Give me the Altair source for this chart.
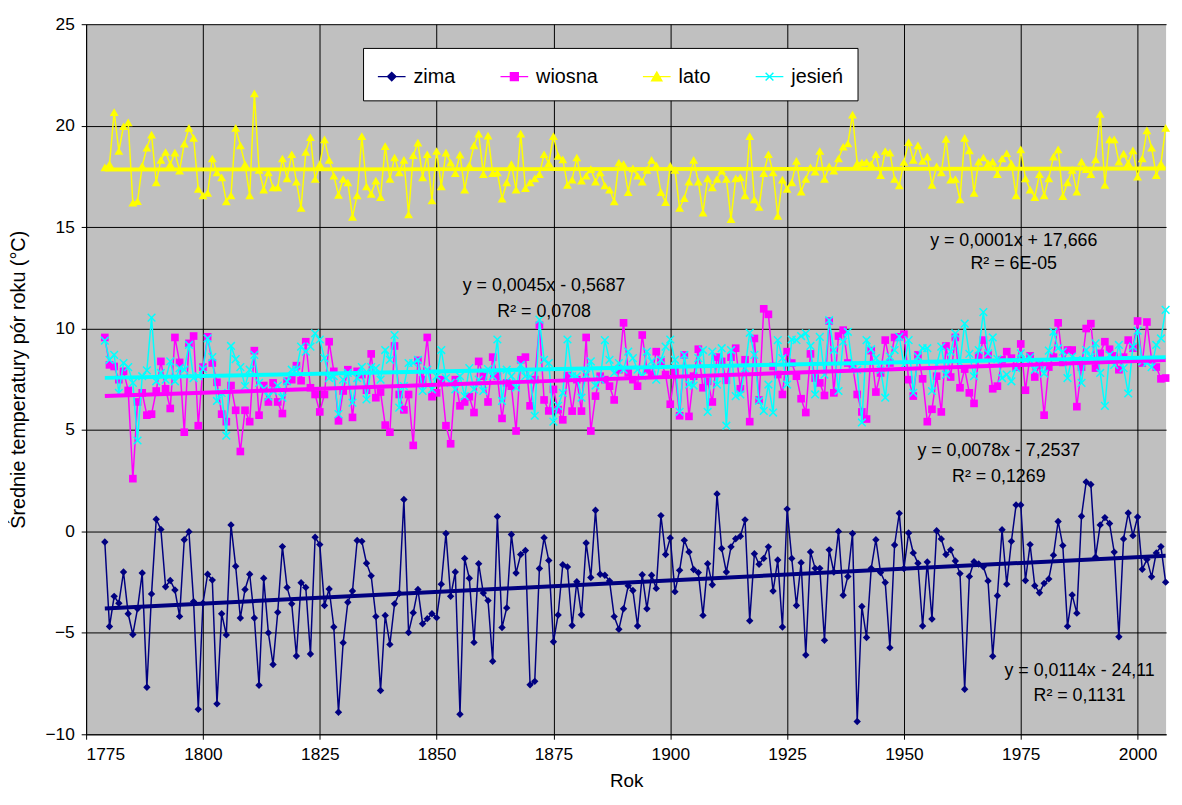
import altair as alt
import pandas as pd

years = list(range(1779, 2007))
seasons = ["zima", "wiosna", "lato", "jesień"]
colors = ["#000080", "#FF00FF", "#FFFF00", "#00FFFF"]

zima = [
    -0.52, -4.69, -3.2, -3.54, -2.0, -4.06, -5.08, -3.81, -2.05, -7.68,
    -3.08, 0.6, 0.1, -2.73, -2.42, -2.89, -4.19, -0.41, -0.02, -3.46,
    -8.77, -3.54, -2.11, -2.4, -8.5, -4.06, -5.1, 0.32, -1.72, -4.27,
    -2.86, -2.11, -4.27, -7.58, -2.31, -5.0, -6.56, -3.99, -0.75, -2.76,
    -3.57, -6.14, -2.53, -2.76, -6.04, -0.29, -0.65, -3.65, -2.84, -4.71,
    -8.91, -5.49, -3.49, -2.94, -0.45,
    -0.49, -1.57, -2.19, -4.2, -7.84, -4.14, -5.57, -3.57, -3.05, 1.57,
    -4.98, -4.01, -2.86, -4.55, -4.3, -4.06, -4.25, -2.6, -0.1, -3.2,
    -2.0, -9.01, -1.33, -2.31, -5.47, -1.59, -3.04, -3.41, -6.4, 0.73,
    -4.74, -3.77, -0.15, -2.05, -1.14, -0.94, -7.56, -7.39, -1.83, -0.31,
    -1.43, -5.44, -4.12, -1.64, -1.75, -4.64, -2.48, -4.11, -0.57, -2.27,
    1.04, -2.11, -2.16, -2.44, -4.2, -4.82, -3.81, -2.68, -2.91, -4.66,
    -2.14, -3.81, -2.16, -2.81, 0.78, -1.14, -0.32, -2.97, -1.92, -0.44,
    -1.01, -1.88, -2.03, -4.14, -1.59, -2.63, 1.85, -0.84, -2.0, -0.76,
    -0.36, -0.24, 0.57, -4.4, -1.1, -1.62, -1.33, -0.76, -2.94, -1.41,
    -4.71, 1.1, -1.33, -3.65, -1.54, -6.09, -1.01, -1.82, -1.82, -5.37,
    -0.91, -2.0, 0.0, -3.15, -2.22, -0.1, -9.37, -3.7, -5.23, -1.82,
    -0.41, -2.03, -2.52, -5.73, -0.67, 0.89, -1.83, -0.08, -1.06,
    -1.57, -4.66, -1.51, -4.32, 0.03, -0.37, -1.14, -0.91, -1.46, -2.08,
    -7.78, -2.22, -1.49, -1.61, -1.74, -2.44, -6.15, -3.17, 0.08, -2.6,
    -0.49, 1.3, 1.3, -2.42, -0.65, -2.68, -3.02, -2.56, -2.34, -1.17,
    0.49, -0.7, -4.68, -3.13, -4.03, 0.75, 2.44, 2.31, -1.27, 0.32,
    0.68, 0.39, -1.02, -5.19, -0.37, 0.91, -0.21, 0.71, -1.87, -1.38,
    -2.24, -1.06, -0.75, -2.5,
]

wiosna = [
    9.56, 8.21, 8.13, 7.48, 7.89, 6.95, 2.6, 6.38, 6.83, 5.73,
    5.78, 6.92, 8.38, 7.03, 6.06, 9.56, 8.33, 4.89, 9.27, 9.63,
    5.21, 8.1, 9.59, 8.3, 7.35, 5.78, 5.41, 7.19, 5.97, 3.94,
    5.97, 5.41, 8.91, 5.73, 7.19, 6.38, 7.32, 6.38, 5.81, 7.4,
    7.48, 8.17, 7.43, 9.35, 7.08, 6.75, 5.89, 6.75, 9.35, 7.89,
    5.45, 6.92, 7.97, 5.62, 7.89,
    7.73, 6.96, 8.75, 6.59, 6.87, 5.24, 4.89, 9.14, 6.75, 5.99,
    6.75, 4.24, 8.43, 7.48, 9.56, 6.64, 6.83, 7.48, 5.21, 4.32,
    7.48, 6.19, 6.38, 6.64, 5.86, 8.38, 7.65, 6.38, 8.59, 7.65,
    5.57, 7.32, 7.16, 4.95, 8.46, 8.59, 6.19, 7.48, 10.16, 6.48,
    5.94, 7.0, 6.0, 5.5, 7.68, 5.93, 7.48, 5.93, 9.56, 4.95,
    6.67, 7.65, 7.48, 7.16, 6.48, 7.97, 10.28, 7.81, 7.48, 7.16,
    9.68, 7.97, 7.73, 8.86, 8.38, 7.73, 6.27, 7.89, 5.7, 8.7,
    5.67, 7.65, 8.98, 7.08, 7.4, 6.38, 8.59, 8.38, 7.45, 8.59,
    9.03, 7.03, 8.46, 5.41, 9.51, 6.48, 10.97, 10.7, 8.13, 7.73,
    6.75, 8.86, 8.3, 7.65, 6.54, 5.86, 8.75, 7.56, 7.32, 6.7,
    10.37, 6.83, 9.63, 9.92, 8.3, 8.17, 6.75, 5.89, 5.54, 8.91,
    6.87, 7.81, 9.43, 8.3, 9.56, 9.59, 9.72, 7.48, 6.67,
    8.7, 7.52, 5.41, 6.02, 7.65, 5.89, 9.14, 7.61, 9.56, 7.08,
    8.0, 6.83, 6.31, 8.65, 9.43, 8.7, 7.03, 7.16, 8.46, 8.86,
    8.54, 8.1, 9.24, 6.96, 8.65, 7.61, 8.21, 5.73, 8.1, 8.59,
    10.28, 8.33, 8.94, 8.94, 6.15, 8.1, 10.0, 10.24, 8.05, 8.78,
    9.35, 8.98, 8.65, 7.97, 8.59, 9.43, 9.03, 10.37, 8.3, 10.32,
    8.46, 8.1, 7.52, 7.56,
]

lato = [
    17.94, 18.1, 20.67, 18.75, 19.97, 20.16, 16.2, 16.28, 18.02, 18.91,
    19.56, 17.2, 18.31, 18.7, 18.1, 18.67, 17.78, 19.11, 19.89, 19.4,
    16.88, 16.56, 16.69, 18.38, 17.69, 17.45, 16.27, 16.56, 19.89, 19.03,
    18.1, 16.56, 21.59, 17.82, 16.85, 17.69, 16.95, 16.95, 18.38, 17.4,
    18.59, 17.24, 15.94, 18.7, 19.43, 17.37, 18.1, 19.32, 18.31, 17.53,
    16.59, 17.37, 17.2, 15.5, 16.56,
    19.48, 17.01, 16.64, 17.29, 16.48, 18.99, 17.37, 18.43, 17.69, 18.31,
    15.62, 18.54, 19.16, 17.45, 18.59, 16.31, 18.75, 17.01, 18.67, 18.18,
    17.66, 18.57, 16.85, 18.05, 19.03, 19.61, 17.61, 19.51, 17.66, 17.69,
    16.4, 17.2, 18.1, 16.85, 19.61, 16.92, 17.2, 17.4, 17.61, 18.59,
    18.15, 19.48, 18.51, 18.34, 17.08, 17.34, 18.43, 17.29, 17.53, 17.86,
    17.24, 17.69, 17.05, 16.85, 16.27, 18.18, 18.1, 16.72, 17.89, 17.53,
    17.24, 17.82, 18.31, 18.05, 16.72, 16.23, 18.02, 17.82, 15.94, 16.43,
    17.24, 18.31, 17.24, 15.71, 17.4, 16.96, 17.37, 17.78, 17.37, 15.39,
    17.4, 17.45, 16.56, 19.48, 16.36, 15.99, 17.66, 18.59, 17.69, 15.55,
    17.34, 16.88, 17.2, 18.26, 16.75, 17.37, 17.94, 17.73, 18.75, 17.37,
    17.99, 17.78, 18.38, 18.96, 19.12, 20.54, 18.15, 18.18, 18.21, 18.1,
    18.59, 17.56, 18.75, 18.67, 17.37, 17.05, 18.21, 19.19, 18.31,
    19.03, 18.26, 18.47, 17.08, 17.99, 17.69, 19.35, 17.34, 17.37, 16.36,
    19.4, 18.78, 16.69, 18.23, 18.43, 18.15, 18.23, 17.61, 18.38, 18.64,
    18.13, 16.56, 18.83, 17.4, 16.85, 16.48, 17.61, 16.56, 17.4, 18.47,
    18.83, 16.53, 17.2, 17.82, 16.75, 18.23, 17.86, 17.61, 18.34, 20.58,
    17.08, 19.32, 19.32, 18.23, 18.62, 18.15, 18.78, 17.48, 18.38, 19.77,
    18.91, 17.56, 18.13, 19.89,
]

jesien = [
    9.4, 8.46, 8.7, 6.83, 8.3, 8.1, 7.32, 4.48, 7.65, 7.94,
    10.54, 7.4, 7.81, 7.48, 8.38, 7.4, 8.05, 7.97, 9.19, 7.56,
    7.65, 8.0, 9.51, 8.59, 6.43, 6.83, 4.72, 9.14, 8.49, 8.1,
    7.16, 7.97, 8.7, 7.32, 7.03, 6.64, 6.92, 7.19, 6.59, 7.4,
    7.97, 7.97, 9.11, 8.86, 9.11, 9.76, 9.46, 8.54, 7.56, 7.65,
    5.78, 7.48, 7.81, 6.35, 7.56,
    8.1, 6.51, 8.1, 8.05, 7.48, 8.94, 8.46, 9.68, 6.1, 7.16,
    8.3, 8.3, 8.46, 6.92, 7.97, 7.0, 7.65, 8.94, 7.56, 7.32,
    7.0, 7.65, 6.67, 8.05, 7.0, 7.48, 6.92, 8.0, 7.65, 9.46,
    6.43, 7.97, 7.65, 7.08, 8.21, 7.65, 7.65, 5.7, 10.44, 8.46,
    8.3, 5.41, 6.19, 6.83, 9.46, 7.65, 7.65, 6.59, 7.73, 8.38,
    7.19, 7.48, 9.43, 8.46, 7.81, 8.3, 7.97, 8.86, 8.54, 7.97,
    7.65, 8.86, 8.38, 7.48, 8.46, 9.11, 9.46, 8.46, 5.89, 8.7,
    7.24, 7.19, 8.54, 8.94, 5.89, 8.86, 7.24, 9.03, 5.21, 8.94,
    6.67, 6.75, 8.05, 9.79, 8.7, 6.43, 5.94, 7.24, 5.86, 9.43,
    8.54, 7.24, 9.46, 9.43, 9.63, 9.76, 9.14, 6.75, 9.59, 7.73,
    10.41, 8.94, 6.92, 9.35, 9.84, 8.13, 7.97, 5.37, 9.43, 8.98,
    8.54, 7.97, 6.59, 8.62, 8.94, 9.59, 8.21, 9.43, 6.83,
    8.62, 9.03, 9.03, 6.92, 8.21, 9.11, 7.73, 8.86, 9.76, 8.3,
    10.24, 8.75, 7.65, 8.94, 10.81, 8.78, 9.56, 8.49, 7.56, 7.73,
    7.4, 8.05, 8.78, 8.46, 8.59, 7.97, 8.3, 7.78, 8.91, 9.84,
    9.03, 8.86, 7.56, 8.62, 8.46, 7.32, 8.94, 8.59, 9.27, 7.81,
    6.19, 8.7, 8.21, 9.19, 8.05, 6.8, 9.11, 9.89, 8.38, 8.3,
    8.1, 9.19, 9.51, 10.92,
]

x_ticks = [1775, 1800, 1825, 1850, 1875, 1900, 1925, 1950, 1975, 2000]
y_ticks = [-10, -5, 0, 5, 10, 15, 20, 25]

ann_text = ["y = 0,0001x + 17,666", "R² = 6E-05",
            "y = 0,0045x - 0,5687", "R² = 0,0708",
            "y = 0,0078x - 7,2537", "R² = 0,1269",
            "y = 0,0114x - 24,11", "R² = 0,1131"]
ann_rok = [1973.5, 1973.5, 1873.0, 1873.0, 1970.3, 1970.3, 1987.6, 1987.6]
ann_temp = [14.33, 13.17, 12.09, 10.83, 3.96, 2.7, -6.9, -8.12]

series = {"zima": zima, "wiosna": wiosna, "lato": lato, "jesień": jesien}
rows = []
for name, vals in series.items():
    for yr, v in zip(years, vals):
        rows.append({"rok": yr, "temp": v, "pora": name})
df = pd.DataFrame(rows)
ann = pd.DataFrame({"rok": ann_rok, "temp": ann_temp, "text": ann_text})

FONT = "Liberation Sans"

legend_paths = [
    "M-1,0H1M0,-0.3L0.3,0L0,0.3L-0.3,0Z",
    "M-1,0H1M-0.28,-0.28H0.28V0.28H-0.28Z",
    "M-1,0H1M0,-0.32L0.36,0.3H-0.36Z",
    "M-1,0H1M-0.28,-0.28L0.28,0.28M-0.28,0.28L0.28,-0.28",
]

xenc = alt.X("rok:Q",
             scale=alt.Scale(domain=[1775, 2006.1], nice=False, zero=False),
             axis=alt.Axis(values=x_ticks, format="d", title="Rok", grid=True,
                           labelFontSize=17.5, titleFontSize=19, titleFontWeight="normal",
                           labelPadding=7, titlePadding=8, tickSize=5))
yenc = alt.Y("temp:Q",
             scale=alt.Scale(domain=[-10, 25], nice=False, zero=False),
             axis=alt.Axis(values=y_ticks, title="Średnie temperatury pór roku (°C)", grid=True,
                           labelFontSize=17.5, titleFontSize=20, titleFontWeight="normal",
                           labelPadding=7, titlePadding=16.5, tickSize=5))

leg = alt.Legend(
    title=None, orient="none", legendX=280, legendY=24,
    direction="horizontal", columns=4, columnPadding=42,
    fillColor="white", strokeColor="black", padding=14,
    labelFontSize=20, labelFont=FONT, labelOffset=7, labelColor="black",
    symbolSize=784, symbolStrokeWidth=1.5, symbolOpacity=1)

base = alt.Chart(df)
point_shapes = {
    "zima": ("diamond", True, 56),
    "wiosna": ("square", True, 60),
    "lato": ("triangle-up", True, 80),
    "jesień": ("M-1,-1L1,1M-1,1L1,-1", False, 60),
}

layers = []
for s, col in zip(seasons, colors):
    sub = base.transform_filter(alt.datum.pora == s)
    layers.append(sub.mark_line(strokeWidth=1.5, color=col).encode(x=xenc, y=yenc))
    shp, filled, size = point_shapes[s]
    layers.append(sub.mark_point(shape=shp, filled=filled, size=size, opacity=1,
                                 color=col, strokeWidth=1.5).encode(x=xenc, y=yenc))
for s, col in zip(seasons, colors):
    layers.append(base.transform_filter(alt.datum.pora == s)
                  .transform_regression("rok", "temp")
                  .mark_line(strokeWidth=4, color=col)
                  .encode(x="rok:Q", y="temp:Q"))

text_layer = alt.Chart(ann).mark_text(font=FONT, fontSize=18, color="black").encode(
    x="rok:Q", y="temp:Q", text="text:N")
layers.append(text_layer)

# legend-only layer (draws no marks; carries the legend)
legend_layer = base.transform_filter("false").mark_point(filled=True, strokeWidth=1.5).encode(
    x="rok:Q", y="temp:Q",
    color=alt.Color("pora:N", scale=alt.Scale(domain=seasons, range=colors), legend=leg),
    stroke=alt.Stroke("pora:N", scale=alt.Scale(domain=seasons, range=colors), legend=leg),
    shape=alt.Shape("pora:N", scale=alt.Scale(domain=seasons, range=legend_paths), legend=leg),
)
layers.append(legend_layer)

chart = alt.layer(*layers).properties(
    width=1092, height=718,
    padding={"left": 0, "top": 3, "right": 0, "bottom": 0},
    background="white",
).configure_view(fill="#C0C0C0", stroke=None).configure_axis(
    domainColor="black", tickColor="black", gridColor="black", gridWidth=1,
    gridOpacity=1, labelColor="black", titleColor="black",
    labelFont=FONT, titleFont=FONT,
)

chart.save("out.html", embed_options={"renderer": "svg", "actions": False})
